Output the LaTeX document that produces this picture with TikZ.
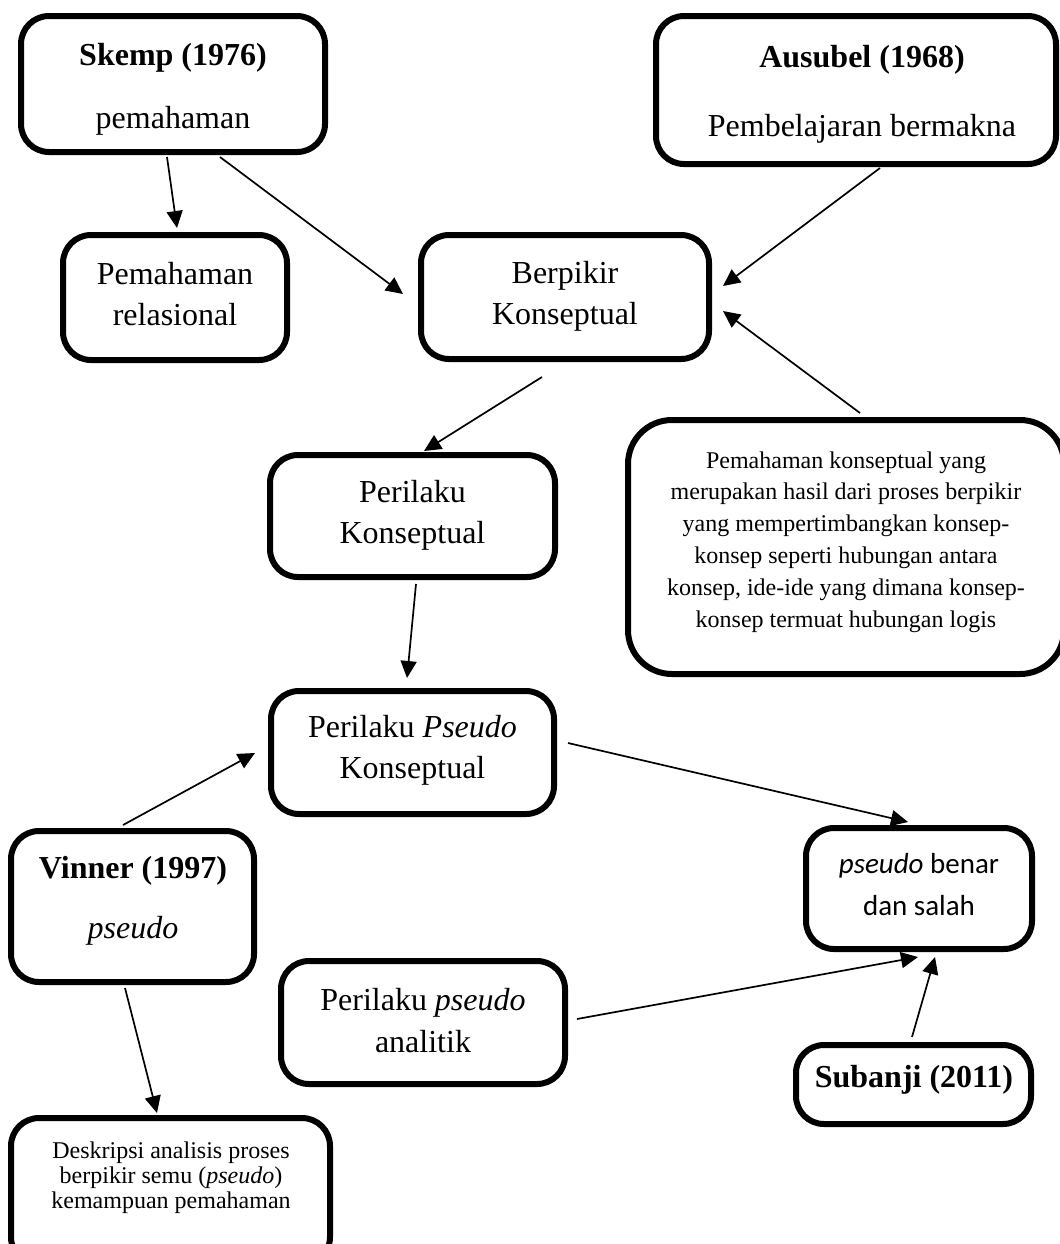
\documentclass[tikz,border=0pt]{standalone}
\usepackage{fontspec}
\setmainfont{Liberation Serif}
\newfontfamily\calibrifont{Carlito}
\usetikzlibrary{arrows.meta}
\newcommand\mylines[1]{\begin{tabular}[t]{@{}c@{}}#1\end{tabular}}
\begin{document}
\begin{tikzpicture}[x=0.5pt,y=-0.5pt,
  box/.style={draw=black, line width=3pt, rectangle, rounded corners=14pt, fill=white, inner sep=0pt},
  bigbox/.style={box, rounded corners=22pt},
  txt/.style={anchor=base, inner sep=0pt, font=\fontsize{16}{20.5}\selectfont},
  smalltxt/.style={anchor=base, inner sep=0pt, font=\fontsize{12}{15.9}\selectfont},
  caltxt/.style={anchor=base, inner sep=0pt, font=\calibrifont\fontsize{14.5}{21}\selectfont},
  arr/.style={line width=0.85pt, -{Triangle[length=8.5pt,width=8pt]}}]
\useasboundingbox (0,0) rectangle (1060,1244);
\clip (0,0) rectangle (1060,1244);

% boxes
\node[box, minimum width=152pt, minimum height=68pt] (skemp) at (173,84) {};
\node[box, minimum width=200pt, minimum height=74pt] (ausubel) at (856,90) {};
\node[box, minimum width=112pt, minimum height=62.5pt] (relasional) at (175,297.5) {};
\node[box, minimum width=144pt, minimum height=62pt] (berpikir) at (565,297) {};
\node[box, minimum width=142.5pt, minimum height=61pt] (perilakuK) at (412.5,516) {};
\node[bigbox, minimum width=218pt, minimum height=127pt] (penjelasan) at (846,547) {};
\node[box, minimum width=141.5pt, minimum height=61.5pt] (pseudoK) at (412.5,752.5) {};
\node[box, minimum width=121.5pt, minimum height=75.5pt] (vinner) at (132.5,906.5) {};
\node[box, minimum width=113pt, minimum height=60.5pt] (benar) at (919,888.5) {};
\node[box, minimum width=142pt, minimum height=61.5pt] (analitik) at (423,1022.5) {};
\node[box, minimum width=117.5pt, minimum height=39.5pt] (subanji) at (913.5,1084.5) {};
\node[box, minimum width=159.5pt, minimum height=73.5pt] (deskripsi) at (170.5,1191.5) {};

% texts
\node[txt, font=\fontsize{16}{31.5}\selectfont] (skemp-t) at (173,65) {\mylines{\textbf{Skemp (1976)}\\pemahaman}};
\node[txt, font=\fontsize{16}{34.5}\selectfont] (ausubel-t) at (862,67) {\mylines{\textbf{Ausubel (1968)}\\Pembelajaran bermakna}};
\node[txt] (relasional-t) at (175,284) {\mylines{Pemahaman\\relasional}};
\node[txt] (berpikir-t) at (565,283) {\mylines{Berpikir\\Konseptual}};
\node[txt] (perilakuK-t) at (412.5,502) {\mylines{Perilaku\\Konseptual}};
\node[smalltxt] (penjelasan-t) at (846,468) {\mylines{Pemahaman konseptual yang\\merupakan hasil dari proses berpikir\\yang mempertimbangkan konsep-\\konsep seperti hubungan antara\\konsep, ide-ide yang dimana konsep-\\konsep termuat hubungan logis}};
\node[txt] (pseudoK-t) at (412.5,737) {\mylines{Perilaku \textit{Pseudo}\\Konseptual}};
\node[txt, font=\fontsize{16}{30}\selectfont] (vinner-t) at (133,878) {\mylines{\textbf{Vinner (1997)}\\\textit{pseudo}}};
\node[caltxt] (benar-t) at (919,873) {\mylines{\textit{pseudo} benar\\dan salah}};
\node[txt, font=\fontsize{16}{21}\selectfont] (analitik-t) at (423,1010) {\mylines{Perilaku \textit{pseudo}\\analitik}};
\node[txt] (subanji-t) at (914,1087) {\textbf{Subanji (2011)}};
\node[smalltxt, font=\fontsize{12}{12.5}\selectfont] (deskripsi-t) at (171,1158) {\mylines{Deskripsi analisis proses\\berpikir semu (\textit{pseudo})\\kemampuan pemahaman}};

% connector end points
\coordinate (a1s) at (167,157);  \coordinate (a1e) at (177,228);
\coordinate (a2s) at (220,157);  \coordinate (a2e) at (403,294);
\coordinate (a3s) at (880,168);  \coordinate (a3e) at (723,286);
\coordinate (a4s) at (860,413);  \coordinate (a4e) at (723,311);
\coordinate (a5s) at (542,377);  \coordinate (a5e) at (424,451);
\coordinate (a6s) at (416,584);  \coordinate (a6e) at (407,678);
\coordinate (a7s) at (123,825);  \coordinate (a7e) at (255,753);
\coordinate (a8s) at (568,743);  \coordinate (a8e) at (908,822);
\coordinate (a9s) at (125,988);  \coordinate (a9e) at (157,1113);
\coordinate (a10s) at (577,1019); \coordinate (a10e) at (918,957);
\coordinate (a11s) at (912,1037); \coordinate (a11e) at (935,957);

\draw[arr] (a1s) -- (a1e);
\draw[arr] (a2s) -- (a2e);
\draw[arr] (a3s) -- (a3e);
\draw[arr] (a4s) -- (a4e);
\draw[arr] (a5s) -- (a5e);
\draw[arr] (a6s) -- (a6e);
\draw[arr] (a7s) -- (a7e);
\draw[arr] (a8s) -- (a8e);
\draw[arr] (a9s) -- (a9e);
\draw[arr] (a10s) -- (a10e);
\draw[arr] (a11s) -- (a11e);
\end{tikzpicture}
\end{document}
